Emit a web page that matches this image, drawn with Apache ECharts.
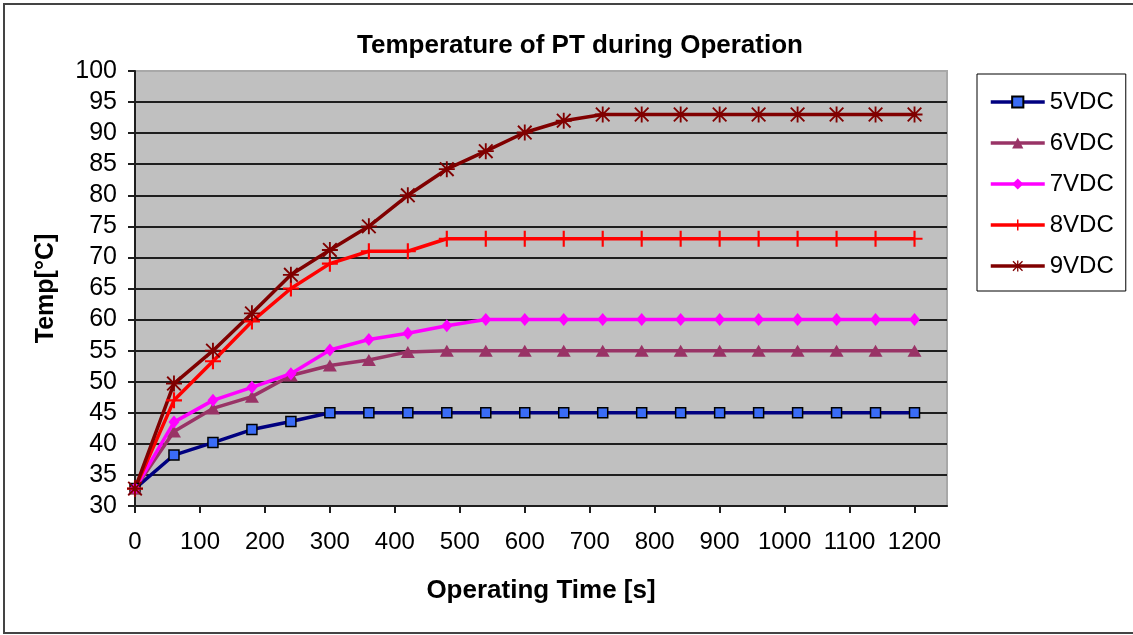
<!DOCTYPE html>
<html>
<head>
<meta charset="utf-8">
<title>Temperature of PT during Operation</title>
<script src="https://cdn.jsdelivr.net/npm/echarts@6/dist/echarts.min.js"></script>
<style>
  html, body { margin: 0; padding: 0; background: #ffffff; }
  #chart { width: 1133px; height: 635px; }
</style>
</head>
<body>
<div id="chart"></div>
<script>
// Sampling times (s), one reading every minute
const timeSec = [0, 60, 120, 180, 240, 300, 360, 420, 480, 540, 600, 660, 720, 780, 840, 900, 960, 1020, 1080, 1140, 1200];

// Measured PT temperature (°C) per supply voltage
const temp5VDC = [32.8, 38.2, 40.2, 42.3, 43.6, 45.0, 45.0, 45.0, 45.0, 45.0, 45.0, 45.0, 45.0, 45.0, 45.0, 45.0, 45.0, 45.0, 45.0, 45.0, 45.0];
const temp6VDC = [32.8, 42.0, 45.7, 47.6, 51.0, 52.6, 53.5, 54.8, 55.0, 55.0, 55.0, 55.0, 55.0, 55.0, 55.0, 55.0, 55.0, 55.0, 55.0, 55.0, 55.0];
const temp7VDC = [32.8, 43.5, 47.0, 49.1, 51.3, 55.1, 56.8, 57.8, 59.0, 60.0, 60.0, 60.0, 60.0, 60.0, 60.0, 60.0, 60.0, 60.0, 60.0, 60.0, 60.0];
const temp8VDC = [32.8, 47.0, 53.3, 59.7, 65.0, 69.0, 71.0, 71.0, 73.0, 73.0, 73.0, 73.0, 73.0, 73.0, 73.0, 73.0, 73.0, 73.0, 73.0, 73.0, 73.0];
const temp9VDC = [32.8, 49.7, 55.0, 61.0, 67.2, 71.2, 75.0, 80.0, 84.2, 87.1, 90.1, 92.0, 93.0, 93.0, 93.0, 93.0, 93.0, 93.0, 93.0, 93.0, 93.0];

const seriesNames = ['5VDC', '6VDC', '7VDC', '8VDC', '9VDC'];

// Tick labels on the time axis
const xTickValues = [0, 100, 200, 300, 400, 500, 600, 700, 800, 900, 1000, 1100, 1200];

const FONT = 'Liberation Sans, Arial, sans-serif';

// Marker shapes
const PLUS_PATH = 'path://M5.2,0L6.8,0L6.8,5.2L12,5.2L12,6.8L6.8,6.8L6.8,12L5.2,12L5.2,6.8L0,6.8L0,5.2L5.2,5.2Z';
const STAR_PATH = 'path://M5.3,0L6.7,0L6.7,12L5.3,12Z M0.4,1.4L1.4,0.4L11.6,10.6L10.6,11.6Z M10.6,0.4L11.6,1.4L1.4,11.6L0.4,10.6Z M0,5.3L12,5.3L12,6.7L0,6.7Z';

function pairs(values) {
  return timeSec.map((t, i) => [t, values[i]]);
}

// One grid-line colour per y tick (30 … 100); the top edge is the lighter plot border
const yTickCount = 15;
const splitColors = [];
for (let i = 0; i < yTickCount; i++) splitColors.push(i === yTickCount - 1 ? '#a8a8a8' : '#1e1e1e');

const seriesStyles = [
  { line: '#000080', symbol: 'rect', size: 10, fill: '#3a6cf6', border: '#000000', borderWidth: 1.5 },
  { line: '#993366', symbol: 'triangle', size: [14, 12], fill: '#993366', border: '#993366', borderWidth: 0 },
  { line: '#ff00ff', symbol: 'diamond', size: [11, 13], fill: '#ff00ff', border: '#ff00ff', borderWidth: 0 },
  { line: '#ff0000', symbol: PLUS_PATH, size: 16, fill: '#ff0000', border: '#ff0000', borderWidth: 0 },
  { line: '#800000', symbol: STAR_PATH, size: 16, fill: '#800000', border: '#800000', borderWidth: 0 }
];

const seriesValues = [temp5VDC, temp6VDC, temp7VDC, temp8VDC, temp9VDC];

const series = seriesNames.map((name, k) => {
  const s = seriesStyles[k];
  return {
    name: name,
    type: 'line',
    data: pairs(seriesValues[k]),
    symbol: s.symbol,
    symbolSize: s.size,
    showAllSymbol: true,
    lineStyle: { color: s.line, width: 3.5 },
    itemStyle: { color: s.fill, borderColor: s.border, borderWidth: s.borderWidth },
    emphasis: { disabled: true },
    animation: false
  };
});

const chart = echarts.init(document.getElementById('chart'), null, { renderer: 'canvas' });

chart.setOption({
  backgroundColor: '#ffffff',
  animation: false,
  title: {
    text: 'Temperature of PT during Operation',
    left: 575,
    textAlign: 'center',
    top: 28,
    textStyle: { fontFamily: FONT, fontSize: 26, fontWeight: 'bold', color: '#000000' }
  },
  legend: {
    orient: 'vertical',
    left: 977,
    top: 74,
    width: 150,
    padding: [16, 12, 13, 12],
    borderColor: '#000000',
    borderWidth: 1,
    itemWidth: 54,
    itemHeight: 14,
    itemGap: 17,
    selectedMode: false,
    lineStyle: { width: 3.5 },
    textStyle: { fontFamily: FONT, fontSize: 24, color: '#000000', lineHeight: 24 },
    data: seriesNames
  },
  grid: {
    left: 135,
    right: 186,
    top: 71,
    bottom: 129,
    show: true,
    backgroundColor: '#c0c0c0',
    borderColor: '#a8a8a8',
    borderWidth: 2
  },
  xAxis: {
    type: 'value',
    min: 0,
    max: 1250,
    interval: 100,
    name: 'Operating Time [s]',
    nameLocation: 'middle',
    nameGap: 72,
    nameTextStyle: { fontFamily: FONT, fontSize: 26, fontWeight: 'bold', color: '#000000' },
    axisLine: { show: true, onZero: false, lineStyle: { color: '#1e1e1e', width: 2 } },
    axisTick: { show: true, inside: false, length: 7, lineStyle: { color: '#1e1e1e', width: 2 }, customValues: xTickValues },
    axisLabel: {
      margin: 24,
      fontFamily: FONT, fontSize: 24, color: '#000000',
      customValues: xTickValues,
      formatter: v => (v > 1200 ? '' : String(v))
    },
    splitLine: { show: false }
  },
  yAxis: {
    type: 'value',
    min: 30,
    max: 100,
    interval: 5,
    name: 'Temp[°C]',
    nameLocation: 'middle',
    nameGap: 76,
    nameRotate: 90,
    nameTextStyle: { fontFamily: FONT, fontSize: 25, fontWeight: 'bold', color: '#000000' },
    axisLine: { show: true, lineStyle: { color: '#1e1e1e', width: 2 } },
    axisTick: { show: true, inside: false, length: 7, lineStyle: { color: '#1e1e1e', width: 2 } },
    axisLabel: { margin: 18, fontFamily: FONT, fontSize: 25, color: '#000000' },
    splitLine: { show: true, lineStyle: { color: splitColors, width: 2 } }
  },
  graphic: [
    {
      type: 'rect',
      silent: true,
      z: -1,
      shape: { x: 4, y: 4, width: 1140, height: 629 },
      style: { fill: 'none', stroke: '#444444', lineWidth: 2 }
    }
  ],
  series: series
});
</script>
</body>
</html>
